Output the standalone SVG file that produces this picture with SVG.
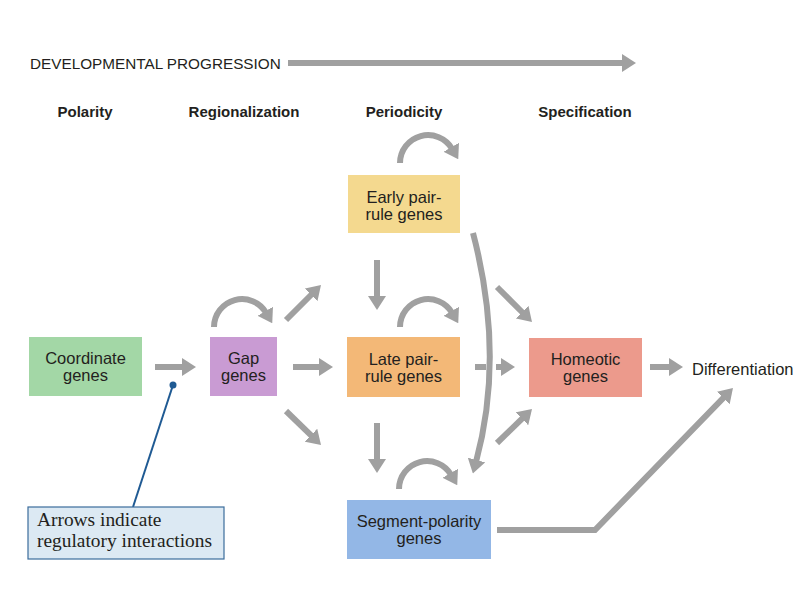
<svg xmlns="http://www.w3.org/2000/svg" width="800" height="600" viewBox="0 0 800 600">
<defs>
<marker id="ah" viewBox="0 0 14 18" refX="2" refY="9" markerWidth="14" markerHeight="18" markerUnits="userSpaceOnUse" orient="auto">
<path d="M0,0 L14,9 L0,18 z" fill="#a0a0a0"/>
</marker>
<style>
.ar{fill:none;stroke:#a0a0a0;stroke-width:6;marker-end:url(#ah)}
.ln{fill:none;stroke:#a0a0a0;stroke-width:6}
.lbl{font-family:"Liberation Sans",Arial,sans-serif;font-size:16.5px;fill:#231f20;text-anchor:middle}
.col{font-family:"Liberation Sans",Arial,sans-serif;font-size:15px;font-weight:bold;fill:#231f20;text-anchor:middle}
.box{stroke:none}
</style>
</defs>
<rect width="800" height="600" fill="#ffffff"/>

<g id="header">
<text x="30" y="68.5" font-family="'Liberation Sans',Arial,sans-serif" font-size="15.3" fill="#231f20">DEVELOPMENTAL PROGRESSION</text>
<path d="M288,63 L624,63" class="ar" stroke-width="5"/>
<text x="85" y="117" class="col">Polarity</text>
<text x="244" y="117" class="col">Regionalization</text>
<text x="404" y="117" class="col">Periodicity</text>
<text x="585" y="117" class="col">Specification</text>
</g>

<g id="connectors">
<path class="ar" d="M155,367 L184,367"/>
<path class="ar" d="M214,327 A28,28 0 0 1 266.2,313"/>
<path class="ar" d="M286,320 L312.5,293.5"/>
<path class="ar" d="M293,367 L321,367"/>
<path class="ar" d="M286,411 L312.4,436.6"/>
<path class="ar" d="M400,163 A28,28 0 0 1 452.2,149"/>
<path class="ar" d="M377,260 L377,298"/>
<path class="ar" d="M400,327 A28,28 0 0 1 452.2,313"/>
<path class="ln" d="M475,367 L486,367"/>
<path class="ar" d="M496,367 L503,367"/>
<path class="ar" stroke-width="4" d="M473,233 Q505,355 476,462"/>
<path class="ar" d="M497,287 L523.5,313.5"/>
<path class="ar" d="M497,443 L523.4,417.4"/>
<path class="ar" d="M650,367 L671,367"/>
<path class="ar" d="M377,423 L377,461"/>
<path class="ar" d="M399,489 A28,28 0 0 1 451.2,475"/>
<path class="ar" stroke-width="5" d="M497,530 L595,530 L724.6,396.6"/>
</g>

<g id="coordinate">
<rect class="box" x="29" y="337" width="113" height="59" fill="#a3d7a6"/>
<text class="lbl" x="85.5" y="364">Coordinate</text>
<text class="lbl" x="85.5" y="381">genes</text>
</g>

<g id="gap">
<rect class="box" x="210" y="337" width="67" height="59" fill="#c99bd3"/>
<text class="lbl" x="243.5" y="364">Gap</text>
<text class="lbl" x="243.5" y="381">genes</text>
</g>

<g id="early-pair-rule">
<rect class="box" x="348" y="175" width="112" height="58" fill="#f4d98f"/>
<text class="lbl" x="404" y="203">Early pair-</text>
<text class="lbl" x="404" y="220">rule genes</text>
</g>

<g id="late-pair-rule">
<rect class="box" x="347" y="337" width="113" height="60" fill="#f3b877"/>
<text class="lbl" x="403.5" y="365">Late pair-</text>
<text class="lbl" x="403.5" y="382">rule genes</text>
</g>

<g id="homeotic">
<rect class="box" x="529" y="338" width="113" height="59" fill="#ec9a8c"/>
<text class="lbl" x="585.5" y="365">Homeotic</text>
<text class="lbl" x="585.5" y="382">genes</text>
</g>

<g id="segment-polarity">
<rect class="box" x="347" y="500" width="144" height="59" fill="#93b7e6"/>
<text class="lbl" x="419" y="527">Segment-polarity</text>
<text class="lbl" x="419" y="544">genes</text>
</g>

<g id="differentiation">
<text x="692" y="375" font-family="'Liberation Sans',Arial,sans-serif" font-size="16.5" fill="#231f20">Differentiation</text>
</g>

<g id="callout">
<line x1="173" y1="385" x2="133" y2="507" stroke="#1f5a93" stroke-width="2"/>
<circle cx="173" cy="385" r="3.5" fill="#1f5a93"/>
<rect x="28" y="507" width="196" height="52" fill="#dce9f3" stroke="#3b6d9c" stroke-width="1.2"/>
<text x="37" y="526" font-family="'Liberation Serif','Times New Roman',serif" font-size="19.4" fill="#231f20">Arrows indicate</text>
<text x="37" y="547" font-family="'Liberation Serif','Times New Roman',serif" font-size="19.4" fill="#231f20">regulatory interactions</text>
</g>
</svg>
